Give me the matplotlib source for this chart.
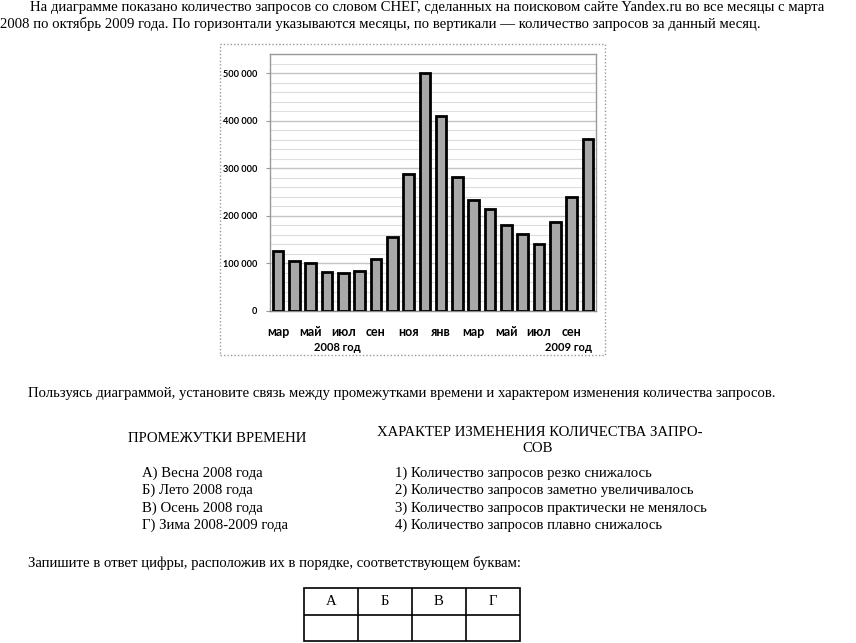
import matplotlib.pyplot as plt
from matplotlib.patches import Rectangle
from matplotlib.ticker import MultipleLocator, FuncFormatter
import matplotlib.transforms as mtransforms

# data
months = ['мар', 'апр', 'май', 'июн', 'июл', 'авг', 'сен', 'окт', 'ноя', 'дек',
          'янв', 'фев', 'мар', 'апр', 'май', 'июн', 'июл', 'авг', 'сен', 'окт']
queries = [126000, 105000, 101000, 82000, 80000, 83000, 109000, 155000, 287000, 500000,
           409000, 282000, 232000, 213000, 180000, 161000, 140000, 187000, 240000, 361000]
years = ['2008 год', '2009 год']
year_pos = [3.6, 17.8]

intro = ['На диаграмме показано количество запросов со словом СНЕГ, сделанных на поисковом сайте Yandex.ru во все месяцы с марта',
         '2008 по октябрь 2009 года. По горизонтали указываются месяцы, по вертикали — количество запросов за данный месяц.']
question = 'Пользуясь диаграммой, установите связь между промежутками времени и характером изменения количества запросов.'
left_head = 'ПРОМЕЖУТКИ ВРЕМЕНИ'
right_head = ['ХАРАКТЕР ИЗМЕНЕНИЯ КОЛИЧЕСТВА ЗАПРО-', 'СОВ']
periods = ['А) Весна 2008 года', 'Б) Лето 2008 года', 'В) Осень 2008 года', 'Г) Зима 2008-2009 года']
changes = ['1) Количество запросов резко снижалось',
           '2) Количество запросов заметно увеличивалось',
           '3) Количество запросов практически не менялось',
           '4) Количество запросов плавно снижалось']
answer_text = 'Запишите в ответ цифры, расположив их в порядке, соответствующем буквам:'
letters = ['А', 'Б', 'В', 'Г']

W, H = 856, 643
fig = plt.figure(figsize=(W / 100, H / 100), dpi=100)
fig.patch.set_facecolor('white')

def fx(x):
    return x / W

def fy(y):
    return 1 - y / H

serif = dict(family='Liberation Serif', fontsize=10.65, color='black')

# page text
fig.text(fx(30), fy(7), intro[0], va='center', **serif)
fig.text(fx(0), fy(24), intro[1], va='center', **serif)
fig.text(fx(28), fy(393), question, va='center', **serif)
fig.text(fx(128), fy(439), left_head, va='center', **serif)
fig.text(fx(377), fy(432), right_head[0], va='center', **serif)
fig.text(fx(538), fy(449), right_head[1], va='center', ha='center', **serif)
for i in range(4):
    yy = 473 + i * 17.5
    fig.text(fx(142), fy(yy), periods[i], va='center', **serif)
    fig.text(fx(395), fy(yy), changes[i], va='center', **serif)
fig.text(fx(28), fy(563), answer_text, va='center', **serif)

# answer table
tab = fig.add_axes([fx(304), fy(641), fx(520) - fx(304), fy(588) - fy(641)])
tab.set_xlim(0, 4)
tab.set_ylim(0, 2)
tab.axis('off')
tab.add_patch(Rectangle((0, 0), 4, 2, fill=False, lw=1.2, ec='black', clip_on=False))
tab.plot([0, 4], [1, 1], color='black', lw=1.2)
for k in range(1, 4):
    tab.plot([k, k], [0, 2], color='black', lw=1.2)
for k, l in enumerate(letters):
    tab.text(k + 0.5, 1.5, l, ha='center', va='center', **serif)

# dotted frame around the chart picture
fig.patches.append(Rectangle((fx(220), fy(355)), fx(605) - fx(220), fy(44) - fy(355),
                             transform=fig.transFigure, fill=False, ec='#9a9a9a',
                             ls=(0, (1, 1.5)), lw=1))

# chart
ax = fig.add_axes([fx(270), fy(310.7), fx(596) - fx(270), fy(54) - fy(310.7)])
x = list(range(len(queries)))
ax.bar(x, queries, width=0.65, color='#a8a8a8', edgecolor='black', linewidth=2, zorder=3)
ax.set_xlim(-0.5, len(queries) - 0.5)
ax.set_ylim(0, 540000)
ax.yaxis.set_major_locator(MultipleLocator(100000))
ax.yaxis.set_minor_locator(MultipleLocator(20000))
ax.yaxis.set_major_formatter(FuncFormatter(lambda v, p: '0' if v == 0 else f'{int(v):,}'.replace(',', ' ')))
ax.grid(axis='y', which='major', color='#c4c4c4', lw=1, zorder=0)
ax.grid(axis='y', which='minor', color='#dedede', lw=0.8, zorder=0)
ax.set_xticks(x[::2], months[::2])
ax.tick_params(axis='x', length=0, pad=11, labelsize=9)
ax.tick_params(axis='y', which='major', length=3, color='#999999', pad=6, labelsize=6.6)
ax.tick_params(axis='y', which='minor', length=0)
for lab in ax.get_xticklabels() + ax.get_yticklabels():
    lab.set_fontfamily('Lato')
    lab.set_fontweight('bold')
for s in ax.spines.values():
    s.set_color('#999999')
    s.set_linewidth(1)
ax.spines['bottom'].set_color('#888888')

trans = mtransforms.blended_transform_factory(ax.transData, ax.transAxes)
for yp, yl in zip(year_pos, years):
    ax.text(yp, -0.145, yl, transform=trans, ha='center', va='center',
            family='Lato', fontweight='bold', fontsize=8)

fig.savefig('out.png', dpi=100)
